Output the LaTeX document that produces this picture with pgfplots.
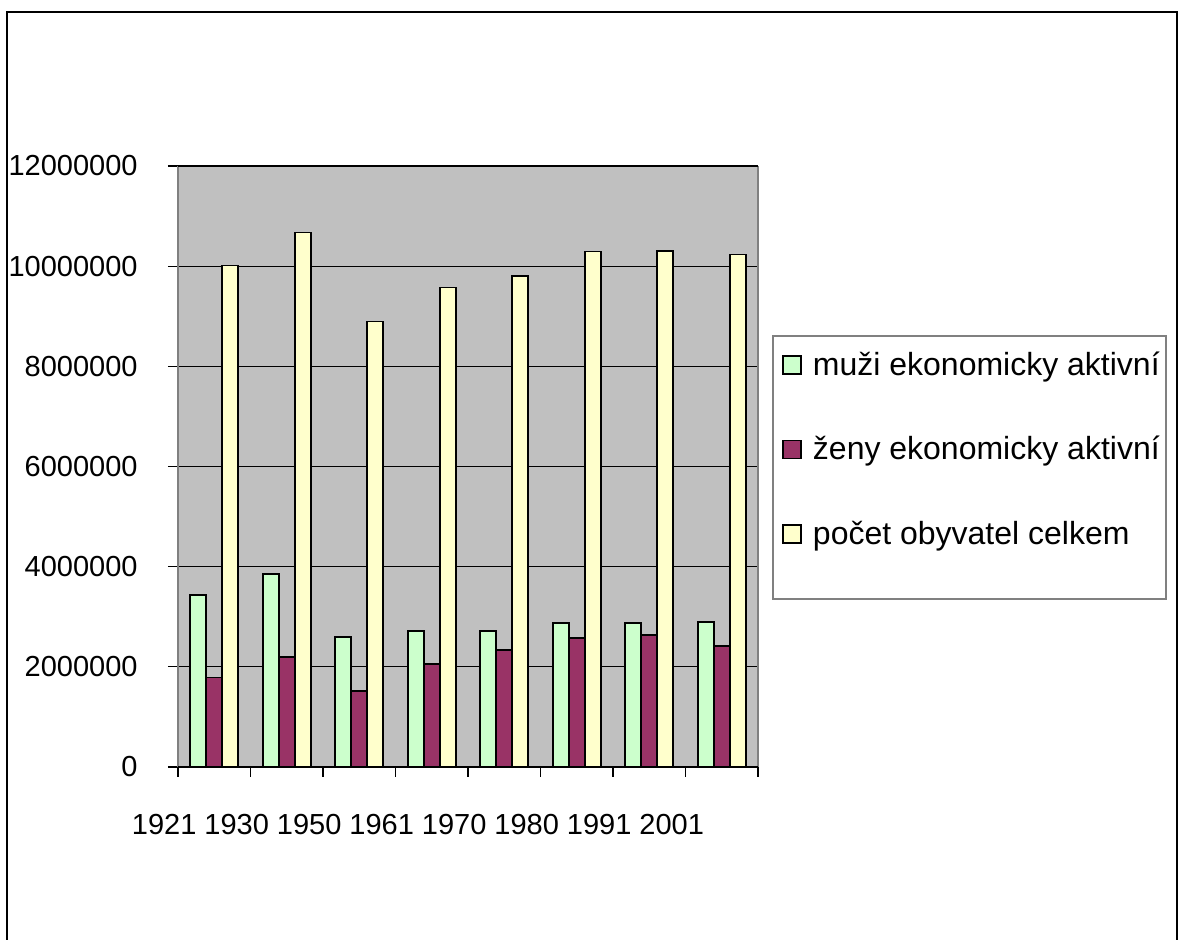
\documentclass[border=0pt]{standalone}
\usepackage{pgfplots}
\pgfplotsset{compat=1.18}
\usepackage{fontspec}
\setmainfont{Liberation Sans}
\definecolor{cgreen}{HTML}{CCFFCC}
\definecolor{cpurple}{HTML}{993366}
\definecolor{cyellow}{HTML}{FFFFCC}
\definecolor{cbg}{HTML}{C0C0C0}
\definecolor{cborder}{HTML}{808080}
\begin{document}
\begin{tikzpicture}
\useasboundingbox (-89pt,-86.5pt) rectangle (501pt,383.5pt);
\draw[line width=1.2pt] (-85.5pt,-86.5pt) -- (-85.5pt,377.5pt) -- (499.5pt,377.5pt) -- (499.5pt,-86.5pt);
\begin{axis}[
  at={(0pt,0pt)}, anchor=south west,
  scale only axis, width=290pt, height=300.5pt,
  clip=false,
  axis background/.style={fill=cbg},
  axis line style={draw=none},
  xmin=-0.5, xmax=7.5, ymin=0, ymax=12000000,
  ybar=0pt, bar width=8pt,
  xtick={-0.5,0.5,...,7.5}, xticklabels={},
  extra x ticks={0,1,2,3,4,5,6,7},
  extra x tick labels={1921,1930,1950,1961,1970,1980,1991,2001},
  extra x tick style={major tick length=0pt, xticklabel style={anchor=base, yshift=-34pt, xshift=-25pt}},
  ytick={0,2000000,4000000,6000000,8000000,10000000,12000000},
  scaled y ticks=false,
  yticklabel style={anchor=east, inner sep=0pt, xshift=-15pt},
  /pgf/number format/.cd, fixed, 1000 sep={}, assume math mode=true, /pgfplots/.cd,
  tick pos=left, tick align=outside, major tick length=5pt,
  tick style={black, line width=0.6pt},
  ymajorgrids, major grid style={black, line width=0.6pt},
  tick label style={font=\fontsize{14.5}{17}\selectfont},
  legend style={draw=none, fill=none, at={(1.031,0.705)}, anchor=north west,
    font=\fontsize{16}{18}\selectfont, row sep=25pt, column sep=3.5pt,
    cells={anchor=west}},
  legend image code/.code={\draw[#1, line width=0.8pt] (0pt,-4.5pt) rectangle (9pt,4.5pt);},
  every axis plot/.append style={draw=black, line width=0.8pt},
]
\addplot[fill=cgreen] coordinates {(0,3430000) (1,3850000) (2,2600000) (3,2720000) (4,2720000) (5,2870000) (6,2870000) (7,2900000)};
\addplot[fill=cpurple] coordinates {(0,1790000) (1,2200000) (2,1520000) (3,2060000) (4,2330000) (5,2570000) (6,2630000) (7,2420000)};
\addplot[fill=cyellow] coordinates {(0,10009587) (1,10674386) (2,8896133) (3,9571531) (4,9807697) (5,10291927) (6,10302215) (7,10230060)};
\legend{muži ekonomicky aktivní, ženy ekonomicky aktivní, počet obyvatel celkem}
\draw[cborder, line width=0.8pt] (rel axis cs:0,0) -- (rel axis cs:0,1);
\draw[cborder, line width=0.8pt] (rel axis cs:1,0) -- (rel axis cs:1,1);
\draw[black, line width=0.8pt] (rel axis cs:0,1) -- (rel axis cs:1,1);
\draw[black, line width=0.8pt] (rel axis cs:0,0) -- (rel axis cs:1,0);
\draw[cborder, line width=0.8pt] (rel axis cs:1.0259,0.7171) rectangle (rel axis cs:1.7034,0.2795);
\end{axis}
\end{tikzpicture}
\end{document}
